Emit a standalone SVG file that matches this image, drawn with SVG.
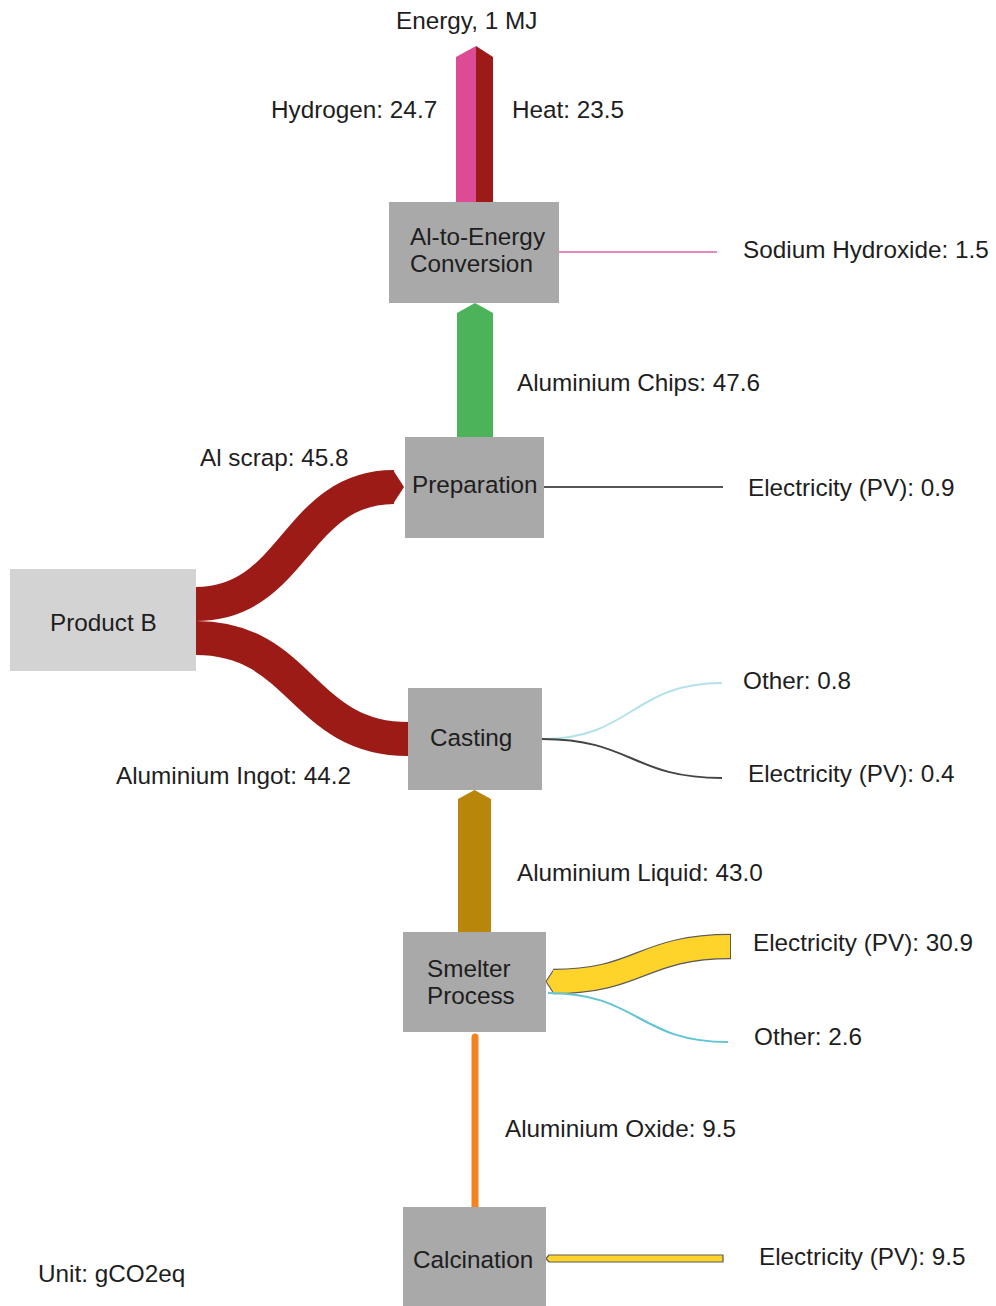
<svg xmlns="http://www.w3.org/2000/svg" width="996" height="1306" viewBox="0 0 996 1306">
  <style>
    text { font-family: "Liberation Sans", Arial, sans-serif; font-size: 24.3px; fill: #1e1e1e; }
    .node { fill: #a9a9a9; }
    .node-light { fill: #d3d3d3; }
    .thin { fill: none; stroke-width: 2; }
    .band { fill: none; stroke-linecap: butt; }
    .outlined { stroke: #5a5a5a; stroke-width: 1.2; stroke-linejoin: round; }
  </style>
  <rect width="996" height="1306" fill="#ffffff"/>

  <!-- flows between process steps -->
  <g id="connectors">
    <!-- Energy output: hydrogen + heat -->
    <polygon points="456,202 456,57 476,46 476,202" fill="#dc4b94"/>
    <polygon points="476,46 493,57 493,202 476,202" fill="#9c1b17"/>

    <!-- Sodium hydroxide input -->
    <line x1="559" y1="252" x2="717" y2="252" class="thin" stroke="#e38ac0"/>

    <!-- Aluminium chips -->
    <polygon points="457,437 457,313 475,303 493,313 493,437" fill="#4db35a"/>

    <!-- Electricity into preparation -->
    <line x1="544" y1="487" x2="723" y2="487" class="thin" stroke="#555555"/>

    <!-- Al scrap: Product B to Preparation -->
    <path d="M196,604 C295,604 295,487 394,487" class="band" stroke="#9c1b17" stroke-width="34"/>
    <polygon points="393,470 404,487 393,504" fill="#9c1b17"/>

    <!-- Aluminium ingot: Product B to Casting -->
    <path d="M196,638 C302,638 302,739 408,739" class="band" stroke="#9c1b17" stroke-width="34"/>

    <!-- Casting inputs -->
    <path d="M542,739 C632,739 632,683 722,683" class="thin" stroke="#b4e2ea"/>
    <path d="M542,739 C632,739 632,778 722,778" class="thin" stroke="#444444"/>

    <!-- Aluminium liquid -->
    <polygon points="458,932 458,799 474.5,790 491,799 491,932" fill="#b8860b"/>

    <!-- Electricity into smelter: outline, tip, then fill -->
    <path d="M553,981.5 C641,981.5 641,946.5 731,946.5" class="band" stroke="#5a5a5a" stroke-width="25.4"/>
    <polygon points="554,970 546,981.5 554,993" fill="#fed42b"/>
    <polyline points="553.5,970 546,981.5 553.5,993" fill="none" stroke="#5a5a5a" stroke-width="1.2" stroke-linejoin="round"/>
    <path d="M553,981.5 C641,981.5 641,946.5 730,946.5" class="band" stroke="#fed42b" stroke-width="23"/>

    <!-- Other into smelter -->
    <path d="M548,993 C638,993 638,1042 728,1042" class="thin" stroke="#62c4d4"/>

    <!-- Aluminium oxide -->
    <path d="M475,1037 L475,1207" fill="none" stroke="#f58220" stroke-width="7" stroke-linecap="round"/>

    <!-- Electricity into calcination -->
    <polygon points="549,1255 723,1255 723,1262 549,1262 546,1258.5" fill="#fed42b" class="outlined"/>

    <!-- flow labels -->
    <text x="396" y="29">Energy, 1 MJ</text>
    <text x="271" y="118">Hydrogen: 24.7</text>
    <text x="512" y="118">Heat: 23.5</text>
    <text x="743" y="258">Sodium Hydroxide: 1.5</text>
    <text x="517" y="391">Aluminium Chips: 47.6</text>
    <text x="200" y="466">Al scrap: 45.8</text>
    <text x="748" y="496">Electricity (PV): 0.9</text>
    <text x="743" y="689">Other: 0.8</text>
    <text x="748" y="782">Electricity (PV): 0.4</text>
    <text x="116" y="784">Aluminium Ingot: 44.2</text>
    <text x="517" y="881">Aluminium Liquid: 43.0</text>
    <text x="753" y="951">Electricity (PV): 30.9</text>
    <text x="754" y="1045">Other: 2.6</text>
    <text x="505" y="1137">Aluminium Oxide: 9.5</text>
    <text x="759" y="1265">Electricity (PV): 9.5</text>
  </g>

  <g id="node-conversion">
    <rect x="389" y="202" width="170" height="101" class="node"/>
    <text x="410" y="245">Al-to-Energy</text>
    <text x="410" y="271.5">Conversion</text>
  </g>

  <g id="node-preparation">
    <rect x="405" y="437" width="139" height="101" class="node"/>
    <text x="412" y="493">Preparation</text>
  </g>

  <g id="node-product-b">
    <rect x="10" y="569" width="186" height="102" class="node-light"/>
    <text x="50" y="631">Product B</text>
  </g>

  <g id="node-casting">
    <rect x="408" y="688" width="134" height="102" class="node"/>
    <text x="430" y="746">Casting</text>
  </g>

  <g id="node-smelter">
    <rect x="403" y="932" width="143" height="100" class="node"/>
    <text x="427" y="977">Smelter</text>
    <text x="427" y="1004">Process</text>
  </g>

  <g id="node-calcination">
    <rect x="403" y="1207" width="143" height="100" class="node"/>
    <text x="413" y="1268">Calcination</text>
  </g>

  <g id="unit-note">
    <text x="38" y="1282">Unit: gCO2eq</text>
  </g>
</svg>
